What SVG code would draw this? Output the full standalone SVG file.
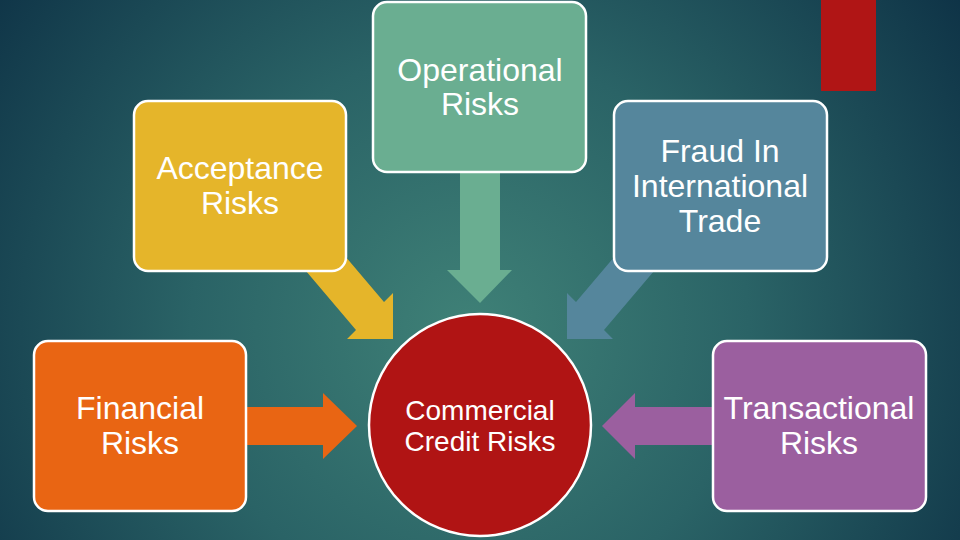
<svg xmlns="http://www.w3.org/2000/svg" width="960" height="540" viewBox="0 0 960 540">
<defs>
<radialGradient id="bg" cx="470" cy="330" r="620" gradientUnits="userSpaceOnUse">
<stop offset="0" stop-color="#3f8177"/>
<stop offset="0.45" stop-color="#2a6366"/>
<stop offset="1" stop-color="#0c2f44"/>
</radialGradient>
<style>
.box{stroke:#fff;stroke-width:2.5}
.t{font-family:"Liberation Sans",Arial,sans-serif;font-size:32px;fill:#fff;text-anchor:middle}
.s{font-size:28px}
</style>
</defs>
<rect width="960" height="540" fill="url(#bg)"/>
<rect x="821" y="0" width="55" height="91" fill="#b01515"/>
<g id="connectors">
<path d="M306,210 L384,302 L393,293 L393,339 L347,339 L356,330 L278,238 Z" fill="#e5b52a"/>
<path d="M654,210 L576,302 L567,293 L567,339 L613,339 L604,330 L682,238 Z" fill="#55869c"/>
<path d="M460,160 L500,160 L500,270 L512,270 L480,303 L447,270 L460,270 Z" fill="#6aae91"/>
<path d="M240,407 L323,407 L323,393 L357,426 L323,459 L323,445 L240,445 Z" fill="#e96513"/>
<path d="M720,407 L635,407 L635,393 L602,426 L635,459 L635,445 L720,445 Z" fill="#9b5f9f"/>
</g>
<g id="operational">
<rect class="box" x="373" y="2" width="213" height="170" rx="14" fill="#6aae91"/>
<text class="t" x="480" y="81">Operational</text>
<text class="t" x="480" y="115">Risks</text>
</g>
<g id="acceptance">
<rect class="box" x="134" y="101" width="212" height="170" rx="14" fill="#e5b52a"/>
<text class="t" x="240" y="179">Acceptance</text>
<text class="t" x="240" y="214">Risks</text>
</g>
<g id="fraud">
<rect class="box" x="614" y="101" width="213" height="170" rx="14" fill="#55869c"/>
<text class="t" x="720" y="162">Fraud In</text>
<text class="t" x="720" y="197">International</text>
<text class="t" x="720" y="232">Trade</text>
</g>
<g id="financial">
<rect class="box" x="34" y="341" width="212" height="170" rx="14" fill="#e96513"/>
<text class="t" x="140" y="419">Financial</text>
<text class="t" x="140" y="454">Risks</text>
</g>
<g id="transactional">
<rect class="box" x="713" y="341" width="213" height="170" rx="14" fill="#9b5f9f"/>
<text class="t" x="819" y="419">Transactional</text>
<text class="t" x="819" y="454">Risks</text>
</g>
<g id="commercial">
<circle class="box" cx="480" cy="425" r="111" fill="#b01414"/>
<text class="t s" x="480" y="420">Commercial</text>
<text class="t s" x="480" y="451">Credit Risks</text>
</g>
</svg>
